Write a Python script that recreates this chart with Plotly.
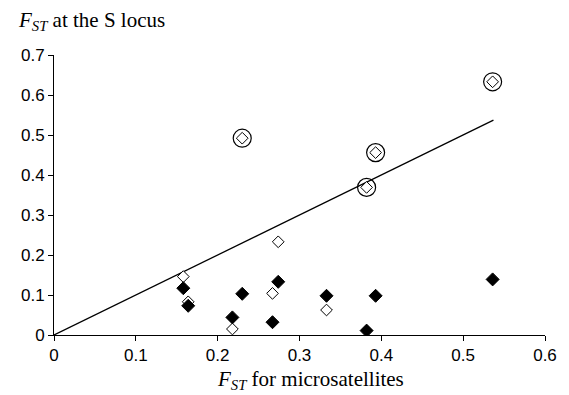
import plotly.graph_objects as go

# Data
x_fst_micro = [0.158, 0.164, 0.218, 0.230, 0.267, 0.274, 0.333, 0.382, 0.393, 0.536]
y_filled = [0.117, 0.073, 0.044, 0.103, 0.032, 0.133, 0.098, 0.011, 0.098, 0.139]
y_open = [0.146, 0.083, 0.015, 0.492, 0.104, 0.233, 0.0625, 0.369, 0.456, 0.633]
circled_x = [0.230, 0.382, 0.393, 0.536]
circled_y = [0.492, 0.369, 0.456, 0.633]
line_x = [0, 0.537]
line_y = [0, 0.537]
x_ticks = [0, 0.1, 0.2, 0.3, 0.4, 0.5, 0.6]
y_ticks = [0, 0.1, 0.2, 0.3, 0.4, 0.5, 0.6, 0.7]

fig = go.Figure()
fig.add_trace(go.Scatter(x=line_x, y=line_y, mode="lines",
                         line=dict(color="black", width=1.3), showlegend=False))
fig.add_trace(go.Scatter(x=x_fst_micro, y=y_open, mode="markers",
                         marker=dict(symbol="diamond", size=9, color="white",
                                     line=dict(color="black", width=1)),
                         showlegend=False))
fig.add_trace(go.Scatter(x=x_fst_micro, y=y_filled, mode="markers",
                         marker=dict(symbol="diamond", size=10, color="black",
                                     line=dict(color="black", width=1)),
                         showlegend=False))
fig.add_trace(go.Scatter(x=circled_x, y=circled_y, mode="markers",
                         marker=dict(symbol="circle-open", size=18, color="black",
                                     line=dict(color="black", width=1.2)),
                         showlegend=False))

axis_common = dict(showgrid=False, zeroline=False, showline=True, linecolor="black",
                   linewidth=1, ticks="outside", ticklen=5, tickcolor="black",
                   tickfont=dict(family="Liberation Sans, Arial", size=17, color="black"))

fig.update_layout(
    width=569, height=395,
    margin=dict(l=54, r=21, t=55, b=60),
    plot_bgcolor="white", paper_bgcolor="white",
    xaxis=dict(range=[0, 0.6], tickvals=x_ticks,
               ticktext=[("%g" % v) for v in x_ticks], **axis_common),
    yaxis=dict(range=[0, 0.7], tickvals=y_ticks,
               ticktext=[("%g" % v) for v in y_ticks], **axis_common),
    annotations=[
        dict(text="<i>F</i><sub><i>ST</i></sub> at the S locus", xref="paper", yref="paper",
             x=-54/494, y=1 + 34/280, xanchor="left", yanchor="middle", showarrow=False,
             xshift=16,
             font=dict(family="Liberation Serif, Times New Roman", size=21, color="black")),
        dict(text="<i>F</i><sub><i>ST</i></sub> for microsatellites", xref="paper", yref="paper",
             x=(312-54)/494, y=-45/280, xanchor="center", yanchor="middle", showarrow=False,
             font=dict(family="Liberation Serif, Times New Roman", size=21, color="black")),
    ],
)

fig.write_html("out.html")
